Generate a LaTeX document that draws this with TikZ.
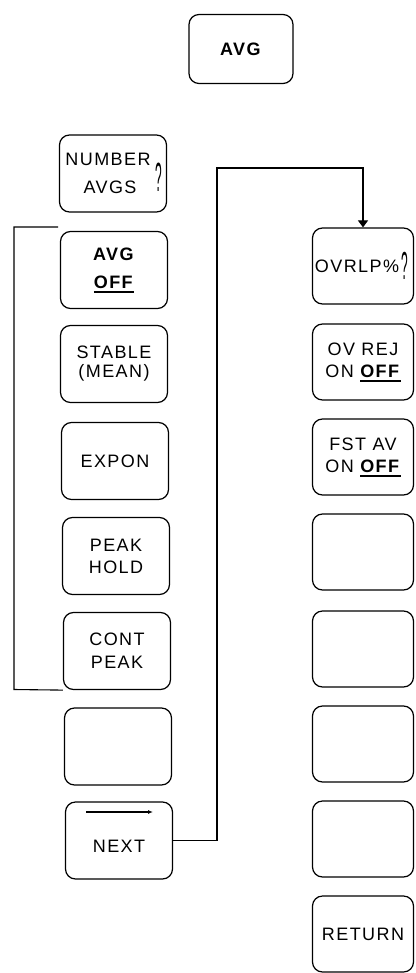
\documentclass[tikz,border=0pt]{standalone}
\usepackage{fontspec}
\setmainfont{Liberation Sans}[LetterSpace=8]
\usetikzlibrary{arrows.meta}
\newcommand{\ulbold}[1]{\setbox0\hbox{\textbf{#1}}\rlap{\rule[-4.5pt]{\wd0}{1.8pt}}\box0}
\begin{document}
\begin{tikzpicture}[x=1pt,y=-1pt,
  keybox/.style={draw, rounded corners=10pt, line width=1.2pt, minimum width=107pt,
    minimum height=77pt, align=center, inner sep=0pt,
    font=\fontsize{18}{22}\selectfont},
  rkey/.style={keybox, minimum width=101pt, minimum height=76pt},
  topkey/.style={keybox, minimum width=104pt, minimum height=69pt},
  qmark/.style={inner sep=0pt, font=\fontsize{17}{20}\selectfont},
  wire/.style={line width=1.1pt}]
\useasboundingbox (0,0) rectangle (415,973);

% top key
\node[topkey] (avg) at (241,49) {\textbf{AVG}};

% left column
\node[keybox] (num) at (113,173.5) {NUMBER\hspace*{10pt}\\[6pt]AVGS\hspace*{6pt}};
\node[qmark] (q1) at (159,177) {\scalebox{0.7}[2.4]{?}};
\node[keybox] (avgoff) at (114,270) {\textbf{AVG}\\[6pt]\ulbold{OFF}};
\node[keybox] (stable) at (114,364) {STABLE\\[-3pt](MEAN)};
\node[keybox] (expon) at (115,461) {EXPON};
\node[keybox] (peak) at (116,556) {PEAK\\HOLD};
\node[keybox] (cont) at (117,651) {CONT\\[1pt]PEAK};
\node[keybox] (blank) at (118,746.5) {};
\node[keybox] (next) at (119,840.5) {\\[2pt]NEXT};

% right column
\node[rkey] (ovrlp) at (363,266) {OVRLP\%\hspace*{12pt}};
\node[qmark] (q2) at (405,266) {\scalebox{0.7}[2.3]{?}};
\node[rkey] (ovrej) at (363,362) {OV REJ\\ON \ulbold{OFF}};
\node[rkey] (fst) at (363,457) {FST AV\\ON \ulbold{OFF}};
\node[rkey] (r4) at (363,552) {};
\node[rkey] (r5) at (363,649) {};
\node[rkey] (r6) at (363,744) {};
\node[rkey] (r7) at (363,839) {};
\node[rkey] (ret) at (363,934) {RETURN};

% arrow inside NEXT
\coordinate (na) at (86,812);
\coordinate (nb) at (153,812);
\draw[wire, -{Latex[length=5pt,width=4pt]}] (na) -- (nb);

% bracket on the left
\coordinate (b1) at (58,227);
\coordinate (b2) at (14,227);
\coordinate (b3) at (14,689.5);
\draw[wire] (b1) -- (b2) -- (b3) -- (cont.south west);

% NEXT -> OVRLP connector
\coordinate (c1) at (217,168);
\draw[wire, -{Triangle[length=7pt,width=10pt]}] (next.east) -| (c1) -| (ovrlp.north);
\end{tikzpicture}
\end{document}
